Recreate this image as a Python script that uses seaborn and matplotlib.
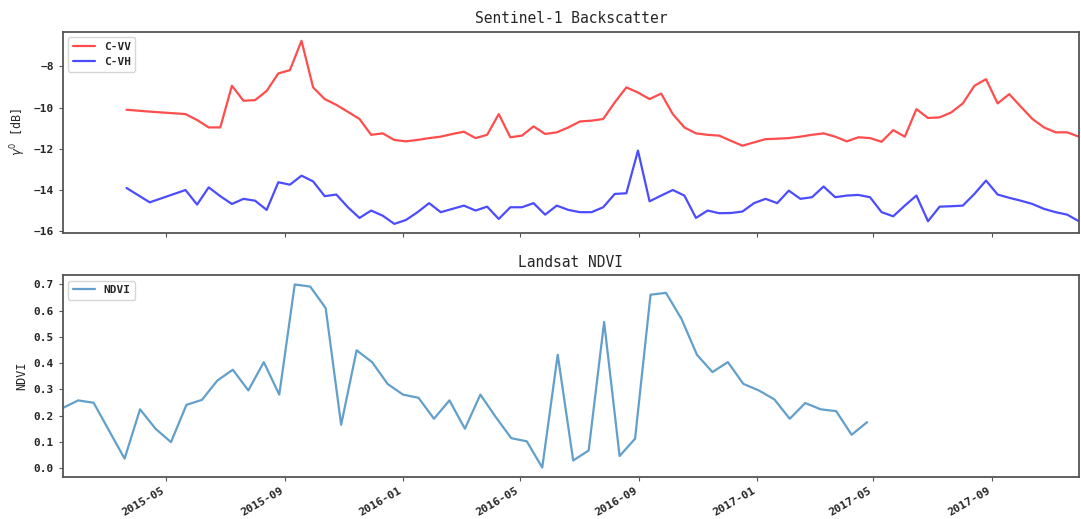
"""Sentinel-1 backscatter (VV / VH) and Landsat NDVI time series, two stacked panels."""
import pandas as pd

import matplotlib
matplotlib.use('Agg')
import matplotlib.pyplot as plt
import matplotlib.dates as mdates
import seaborn as sns

# Sentinel-1 acquisition dates and backscatter [dB]
s1_dates = [
    '2015-03-21', '2015-04-14', '2015-05-21', '2015-06-02', '2015-06-14', '2015-06-26',
    '2015-07-08', '2015-07-20', '2015-08-01', '2015-08-13', '2015-08-25', '2015-09-06',
    '2015-09-18', '2015-09-30', '2015-10-12', '2015-10-24', '2015-11-05', '2015-11-17',
    '2015-11-29', '2015-12-11', '2015-12-23', '2016-01-04', '2016-01-16', '2016-01-28',
    '2016-02-09', '2016-02-21', '2016-03-04', '2016-03-16', '2016-03-28', '2016-04-09',
    '2016-04-21', '2016-05-03', '2016-05-15', '2016-05-27', '2016-06-08', '2016-06-20',
    '2016-07-02', '2016-07-14', '2016-07-26', '2016-08-07', '2016-08-19', '2016-08-31',
    '2016-09-12', '2016-09-24', '2016-10-06', '2016-10-18', '2016-10-30', '2016-11-11',
    '2016-11-23', '2016-12-05', '2016-12-17', '2016-12-29', '2017-01-10', '2017-01-22',
    '2017-02-03', '2017-02-15', '2017-02-27', '2017-03-11', '2017-03-23', '2017-04-04',
    '2017-04-16', '2017-04-28', '2017-05-10', '2017-05-22', '2017-06-03', '2017-06-15',
    '2017-06-27', '2017-07-09', '2017-07-21', '2017-08-02', '2017-08-14', '2017-08-26',
    '2017-09-07', '2017-09-19', '2017-10-01', '2017-10-13', '2017-10-25', '2017-11-06',
    '2017-11-18', '2017-11-30',
]
vv = [
    -10.11, -10.20, -10.32, -10.61, -10.97, -10.97, -8.94, -9.67, -9.64, -9.19,
    -8.34, -8.18, -6.75, -9.02, -9.59, -9.87, -10.21, -10.56, -11.33, -11.26,
    -11.58, -11.65, -11.58, -11.49, -11.42, -11.29, -11.18, -11.49, -11.33, -10.32,
    -11.45, -11.37, -10.92, -11.29, -11.21, -10.97, -10.68, -10.64, -10.56, -9.75,
    -9.02, -9.27, -9.59, -9.32, -10.32, -10.97, -11.26, -11.33, -11.37, -11.62,
    -11.86, -11.70, -11.54, -11.52, -11.49, -11.42, -11.33, -11.26, -11.42, -11.65,
    -11.45, -11.49, -11.67, -11.10, -11.42, -10.08, -10.51, -10.48, -10.24, -9.80,
    -8.94, -8.62, -9.80, -9.35, -9.96, -10.56, -10.97, -11.21, -11.21, -11.42,
]
vh = [
    -13.92, -14.62, -14.02, -14.73, -13.89, -14.32, -14.70, -14.45, -14.54, -14.99,
    -13.64, -13.76, -13.32, -13.60, -14.32, -14.24, -14.86, -15.38, -15.02, -15.27,
    -15.67, -15.48, -15.10, -14.66, -15.10, -14.94, -14.78, -15.02, -14.83, -15.43,
    -14.86, -14.86, -14.66, -15.22, -14.78, -14.99, -15.10, -15.10, -14.86, -14.21,
    -14.18, -12.10, -14.57, -14.29, -14.02, -14.29, -15.38, -15.02, -15.15, -15.14,
    -15.07, -14.66, -14.45, -14.66, -14.05, -14.45, -14.37, -13.85, -14.37, -14.29,
    -14.26, -14.37, -15.10, -15.30, -14.78, -14.29, -15.54, -14.83, -14.81, -14.78,
    -14.21, -13.56, -14.24, -14.40, -14.54, -14.70, -14.94, -15.10, -15.22, -15.54,
]

# Landsat scene dates and NDVI
ls_dates = [
    '2015-01-14', '2015-01-30', '2015-02-15', '2015-03-19', '2015-04-04', '2015-04-20',
    '2015-05-06', '2015-05-22', '2015-06-07', '2015-06-23', '2015-07-09', '2015-07-25',
    '2015-08-10', '2015-08-26', '2015-09-11', '2015-09-27', '2015-10-13', '2015-10-29',
    '2015-11-14', '2015-11-30', '2015-12-16', '2016-01-01', '2016-01-17', '2016-02-02',
    '2016-02-18', '2016-03-05', '2016-03-21', '2016-04-06', '2016-04-22', '2016-05-08',
    '2016-05-24', '2016-06-09', '2016-06-25', '2016-07-11', '2016-07-27', '2016-08-12',
    '2016-08-28', '2016-09-13', '2016-09-29', '2016-10-15', '2016-10-31', '2016-11-16',
    '2016-12-02', '2016-12-18', '2017-01-03', '2017-01-19', '2017-02-04', '2017-02-20',
    '2017-03-08', '2017-03-24', '2017-04-09', '2017-04-25',
]
ndvi = [
    0.229, 0.258, 0.249, 0.036, 0.224, 0.150, 0.099, 0.241, 0.260, 0.334,
    0.375, 0.296, 0.404, 0.280, 0.700, 0.692, 0.610, 0.165, 0.449, 0.404,
    0.321, 0.280, 0.268, 0.188, 0.258, 0.150, 0.280, 0.194, 0.114, 0.102,
    0.002, 0.432, 0.029, 0.067, 0.557, 0.046, 0.112, 0.661, 0.668, 0.569,
    0.432, 0.366, 0.404, 0.321, 0.296, 0.262, 0.188, 0.248, 0.224, 0.217,
    0.127, 0.175,
]

s1 = pd.DataFrame({'date': pd.to_datetime(s1_dates), 'C-VV': vv, 'C-VH': vh})
ls = pd.DataFrame({'date': pd.to_datetime(ls_dates), 'NDVI': ndvi})

sns.set_style('ticks')
plt.rcParams['font.family'] = ['DejaVu Sans Mono', 'DejaVu Sans']
plt.rcParams['axes.edgecolor'] = '#555555'
plt.rcParams['axes.linewidth'] = 1.3

fig, (ax1, ax2) = plt.subplots(2, 1, sharex=True, figsize=(10.81, 5.19), dpi=100)
fig.subplots_adjust(left=0.058, right=0.998, top=0.939, bottom=0.0815, hspace=0.21)

sns.lineplot(data=s1, x='date', y='C-VV', color='red', alpha=0.7, linewidth=1.6,
             label='C-VV', ax=ax1)
sns.lineplot(data=s1, x='date', y='C-VH', color='blue', alpha=0.7, linewidth=1.6,
             label='C-VH', ax=ax1)
sns.lineplot(data=ls, x='date', y='NDVI', color='#1f77b4', alpha=0.7, linewidth=1.6,
             label='NDVI', ax=ax2)

ax1.set_title('Sentinel-1 Backscatter', fontsize=10.5)
ax2.set_title('Landsat NDVI', fontsize=10.5)
ax1.set_ylabel(r'$\gamma^0$ [dB]', fontsize=8.5)
ax2.set_ylabel('NDVI', fontsize=8.5)
ax1.set_xlabel('')
ax2.set_xlabel('')

ax1.set_yticks([-16, -14, -12, -10, -8])
ax2.set_yticks([0.0, 0.1, 0.2, 0.3, 0.4, 0.5, 0.6, 0.7])
ax2.yaxis.set_major_formatter(matplotlib.ticker.FormatStrFormatter('%.1f'))

ax2.set_xlim(min(s1['date'].min(), ls['date'].min()), max(s1['date'].max(), ls['date'].max()))
ax2.xaxis.set_major_locator(mdates.MonthLocator(bymonth=[1, 5, 9]))
ax2.xaxis.set_major_formatter(mdates.DateFormatter('%Y-%m'))
plt.setp(ax2.get_xticklabels(), rotation=30, ha='right', fontweight='bold', fontsize=8)

for ax in (ax1, ax2):
    ax.tick_params(axis='both', length=3, width=0.8, color='#555555', labelsize=8)
    for lab in ax.get_yticklabels():
        lab.set_fontweight('bold')
    leg = ax.legend(loc='upper left', fontsize=8, frameon=True)
    for t in leg.get_texts():
        t.set_fontweight('bold')

plt.savefig('out.png', dpi=100)
plt.close(fig)
